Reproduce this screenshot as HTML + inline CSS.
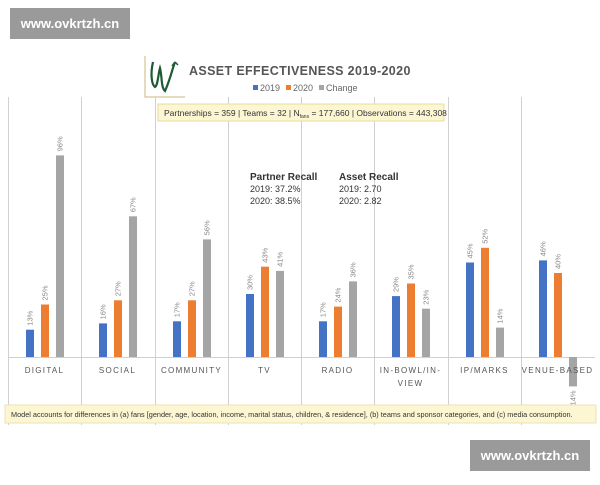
<!DOCTYPE html>
<html><head><meta charset="utf-8"><style>
body{margin:0;background:#fff;width:600px;height:480px;overflow:hidden;font-family:"Liberation Sans",sans-serif}
</style></head><body>
<svg width="600" height="480" xmlns="http://www.w3.org/2000/svg" font-family="Liberation Sans, sans-serif">
<rect x="10" y="8" width="120" height="31" fill="#9a9a9a"/>
<text x="70" y="28" fill="#fff" font-size="13" font-weight="bold" text-anchor="middle">www.ovkrtzh.cn</text>
<rect x="470" y="440" width="120" height="31" fill="#9a9a9a"/>
<text x="530" y="460" fill="#fff" font-size="13" font-weight="bold" text-anchor="middle">www.ovkrtzh.cn</text>
<path d="M145 56 V97 H185" stroke="#c9b87a" stroke-width="1" fill="none"/>
<path d="M153 62 C150 75 152 85 155 87 C158 85 158 75 160 68 C162 75 161 88 165 91 C170 80 172 70 175 62" stroke="#1f5a34" stroke-width="2.2" fill="none"/>
<path d="M175 62 l-3 4 M175 62 l3 3" stroke="#1f5a34" stroke-width="1.5"/>
<text x="189" y="75" font-size="12.5" font-weight="bold" fill="#555" letter-spacing="0.6" textLength="222" lengthAdjust="spacing">ASSET EFFECTIVENESS 2019-2020</text>
<rect x="253" y="85" width="5" height="5" fill="#4472c4"/><text x="260" y="91" font-size="9" fill="#666">2019</text>
<rect x="286" y="85" width="5" height="5" fill="#ed7d31"/><text x="293" y="91" font-size="9" fill="#666">2020</text>
<rect x="319" y="85" width="5" height="5" fill="#a5a5a5"/><text x="326" y="91" font-size="9" fill="#666">Change</text>
<g stroke="#d0d0d0" stroke-width="1">
<line x1="8.5" y1="97" x2="8.5" y2="425"/><line x1="81.5" y1="97" x2="81.5" y2="425"/><line x1="155.5" y1="97" x2="155.5" y2="425"/><line x1="228.5" y1="97" x2="228.5" y2="425"/><line x1="301.5" y1="97" x2="301.5" y2="425"/><line x1="374.5" y1="97" x2="374.5" y2="425"/><line x1="448.5" y1="97" x2="448.5" y2="425"/><line x1="521.5" y1="97" x2="521.5" y2="425"/>
<line x1="8" y1="357.5" x2="595" y2="357.5"/>
</g>
<rect x="158" y="104" width="286" height="17" fill="#fdf6d3" stroke="#e8dc9e"/>
<text x="164" y="116" font-size="8.5" fill="#333">Partnerships =  359  | Teams = 32 | N<tspan font-size="5" dy="2">fans</tspan><tspan dy="-2"> = 177,660 | Observations = 443,308</tspan></text>
<g font-size="9" fill="#333">
<text x="250" y="180" font-weight="bold" font-size="10">Partner Recall</text>
<text x="250" y="192">2019: 37.2%</text><text x="250" y="204">2020: 38.5%</text>
<text x="339" y="180" font-weight="bold" font-size="10">Asset Recall</text>
<text x="339" y="192">2019: 2.70</text><text x="339" y="204">2020: 2.82</text>
</g>
<g id="bars"></g>
<rect x="5" y="405" width="591" height="18" fill="#fdf6d3" stroke="#ece2b0"/>
<text x="11" y="417" font-size="7.3" fill="#333">Model accounts for differences in (a) fans [gender, age, location, income, marital status, children, &amp; residence], (b) teams and sponsor categories, and (c) media consumption.</text>
</svg>
<script>
var d=[["DIGITAL",13,25,96],["SOCIAL",16,27,67],["COMMUNITY",17,27,56],["TV",30,43,41],["RADIO",17,24,36],["IN-BOWL/IN-|VIEW",29,35,23],["IP/MARKS",45,52,14],["VENUE-BASED",46,40,-14]];
var xs=[8,81,155,228,301,374,448,521],cols=["#4472c4","#ed7d31","#a5a5a5"],offs=[18,33,48];
var s="",Z=357,k=2.1;
d.forEach(function(r,i){
 for(var j=0;j<3;j++){var v=r[j+1],h=Math.abs(v)*k,x=xs[i]+offs[j],y=v>=0?Z-h:Z;
  s+='<rect x="'+x+'" y="'+y+'" width="8" height="'+h+'" fill="'+cols[j]+'"/>';
  var ly=v>=0?Z-h-4:Z+h+4,cx=x+6.5;
  s+='<text transform="translate('+cx+','+ly+') rotate(-90)" font-size="7.5" fill="#888" text-anchor="'+(v>=0?'start':'end')+'">'+v+'%</text>';}
 var ls=r[0].split("|");
 ls.forEach(function(t,q){s+='<text x="'+(xs[i]+36.5)+'" y="'+(373+q*13)+'" font-size="8" fill="#555" letter-spacing="1.3" text-anchor="middle">'+t+'</text>';});
});
document.getElementById("bars").innerHTML=s;
</script>
</body></html>
